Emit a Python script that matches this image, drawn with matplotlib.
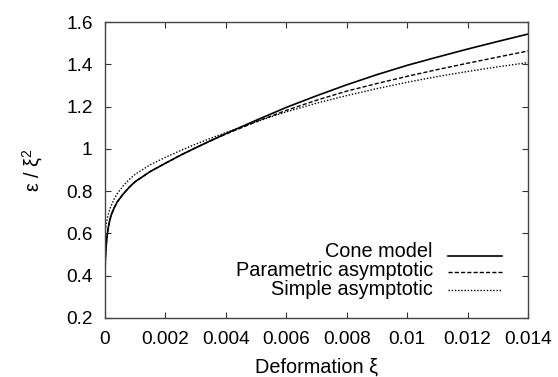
import matplotlib
matplotlib.use("Agg")
import matplotlib.pyplot as plt
from matplotlib.lines import Line2D

plt.rcParams['font.family'] = ['Liberation Sans', 'DejaVu Sans']
plt.rcParams['mathtext.fontset'] = 'custom'
plt.rcParams['mathtext.rm'] = 'Liberation Sans'
plt.rcParams['mathtext.it'] = 'Liberation Sans'

# Data
x = [0, 0.00001, 0.00003, 0.00006, 0.0001, 0.00015, 0.0002, 0.0003, 0.0004,
     0.0006, 0.0008, 0.001, 0.0015, 0.002, 0.0025, 0.003, 0.0035, 0.004,
     0.005, 0.006, 0.007, 0.008, 0.009, 0.010, 0.011, 0.012, 0.013, 0.014]
cone = [0.40, 0.47, 0.525, 0.575, 0.622, 0.657, 0.685, 0.720, 0.748,
        0.786, 0.818, 0.845, 0.893, 0.932, 0.970, 1.005, 1.039, 1.072,
        1.135, 1.196, 1.251, 1.303, 1.351, 1.395, 1.434, 1.472, 1.508, 1.543]
parametric = [0.40, 0.47, 0.525, 0.575, 0.622, 0.657, 0.685, 0.720, 0.748,
              0.786, 0.818, 0.845, 0.893, 0.932, 0.970, 1.005, 1.038, 1.070,
              1.128, 1.182, 1.230, 1.273, 1.309, 1.343, 1.375, 1.405, 1.434, 1.463]
simple = [0.60, 0.615, 0.635, 0.66, 0.685, 0.71, 0.73, 0.762, 0.787,
          0.825, 0.855, 0.88, 0.925, 0.960, 0.992, 1.022, 1.05, 1.077,
          1.128, 1.175, 1.216, 1.252, 1.285, 1.315, 1.342, 1.366, 1.388, 1.408]
labels = ["Cone model", "Parametric asymptotic", "Simple asymptotic"]
xticks = [0, 0.002, 0.004, 0.006, 0.008, 0.010, 0.012, 0.014]
xticklabels = ["0", "0.002", "0.004", "0.006", "0.008", "0.01", "0.012", "0.014"]
yticks = [0.2, 0.4, 0.6, 0.8, 1.0, 1.2, 1.4, 1.6]
yticklabels = ["0.2", "0.4", "0.6", "0.8", "1", "1.2", "1.4", "1.6"]

FS = 13.7
LFS = 14.3
fig = plt.figure(figsize=(5.58, 3.77), dpi=100)
ax = fig.add_axes([105/558, 1-318/377, 423/558, 296/377])

styles = [dict(ls='-', lw=1.2), dict(ls=(0, (3, 1.5)), lw=1.0), dict(ls=(0, (1, 1.3)), lw=1.0)]
series = [cone, parametric, simple]
for ys, st in zip(series, styles):
    ax.plot(x, ys, color='black', **st)

ax.set_xlim(0, 0.014)
ax.set_ylim(0.2, 1.6)
ax.set_xticks(xticks)
ax.set_xticklabels(xticklabels)
ax.set_yticks(yticks)
ax.set_yticklabels(yticklabels)
ax.tick_params(direction='in', top=True, right=True, length=4.5, width=0.8,
               labelsize=FS, pad=9, color='#333333')
for s in ax.spines.values():
    s.set_color('#444444')
    s.set_linewidth(1.0)

ax.set_xlabel("Deformation ξ", fontsize=LFS, labelpad=7)
ax.set_ylabel(r"ε / ξ$^2$", fontsize=LFS, labelpad=15)

# gnuplot-style legend: right-aligned text, sample to the right
text_y = [0.205, 0.143, 0.0777]
line_y = [0.2105, 0.1543, 0.0946]
for lab, st, ty, ly in zip(labels, styles, text_y, line_y):
    ax.text(0.775, ty, lab, transform=ax.transAxes, ha='right', va='baseline', fontsize=LFS)
    ax.add_line(Line2D([0.811, 0.9385], [ly, ly], transform=ax.transAxes, color='black', **st))

fig.savefig("out.png", dpi=100)
